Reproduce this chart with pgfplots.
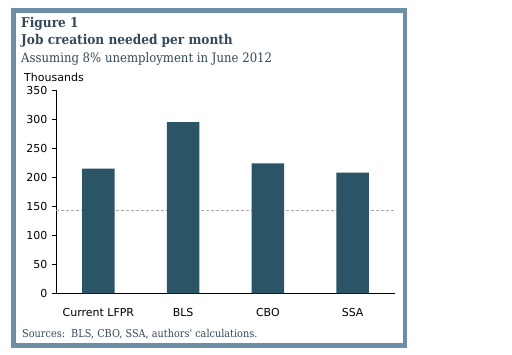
\documentclass[border=0pt]{standalone}
\usepackage{pgfplots}
\pgfplotsset{compat=1.18}
\usepackage{fontspec}
\setmainfont{DejaVu Serif}
\newfontfamily\titlef{DejaVu Serif Condensed}
\newfontfamily\sansf{DejaVu Sans}
\definecolor{framec}{HTML}{6C8EA6}
\definecolor{barc}{HTML}{2B5566}
\definecolor{titlec}{HTML}{34495A}
\definecolor{dashc}{HTML}{A8A8A8}
\begin{document}
\begin{tikzpicture}[x=1pt,y=1pt]
\path[use as bounding box, fill=white] (0,0) rectangle (512,354);
\draw[framec, line width=4.6pt] (13.5,8.5) rectangle (405,343.5);
\node[anchor=base west, inner sep=0, text=titlec, font=\fontsize{13.5}{14}\selectfont\titlef\bfseries] at (21,326) {Figure 1};
\node[anchor=base west, inner sep=0, text=titlec, font=\fontsize{13.5}{14}\selectfont\titlef\bfseries] at (21,309) {Job creation needed per month};
\node[anchor=base west, inner sep=0, text=titlec, font=\fontsize{13}{14}\selectfont\titlef] at (21,291) {Assuming 8\% unemployment in June 2012};
\node[anchor=base west, inner sep=0, font=\fontsize{11}{12}\selectfont\sansf] at (24,272) {Thousands};
\node[anchor=base west, inner sep=0, text=titlec, font=\fontsize{10.8}{12}\selectfont\titlef] at (22,16.7) {Sources:\ \ BLS, CBO, SSA, authors' calculations.};
\begin{axis}[
  at={(56pt,60.7pt)}, anchor=south west,
  scale only axis, width=339pt, height=203pt,
  xmin=0, xmax=4, ymin=0, ymax=350,
  axis x line*=bottom, axis y line*=left,
  axis line style={black, line width=0.8pt, -},
  tick align=outside,
  ytick={0,50,...,350},
  major tick length=4pt,
  tick style={black, line width=0.8pt},
  xtick={0.5,1.5,2.5,3.5},
  xticklabels={Current LFPR,BLS,CBO,SSA},
  x tick style={draw=none},
  extra x ticks={0,1,2,3,4},
  extra x tick labels={},
  extra x tick style={tick style={draw=black, line width=0.8pt}, major tick length=4pt},
  /pgf/number format/assume math mode=true,
  ticklabel style={font=\fontsize{11}{12}\selectfont\sansf},
  xticklabel style={yshift=-8pt},
  yticklabel style={xshift=-1pt},
  clip=false,
]
\addplot[dashc, densely dashed, line width=0.9pt] coordinates {(0,142) (4,142)};
\addplot[ybar, bar width=0.385, fill=barc, draw=none] coordinates {(0.5,215) (1.5,295) (2.5,224) (3.5,208)};
\end{axis}
\end{tikzpicture}
\end{document}
